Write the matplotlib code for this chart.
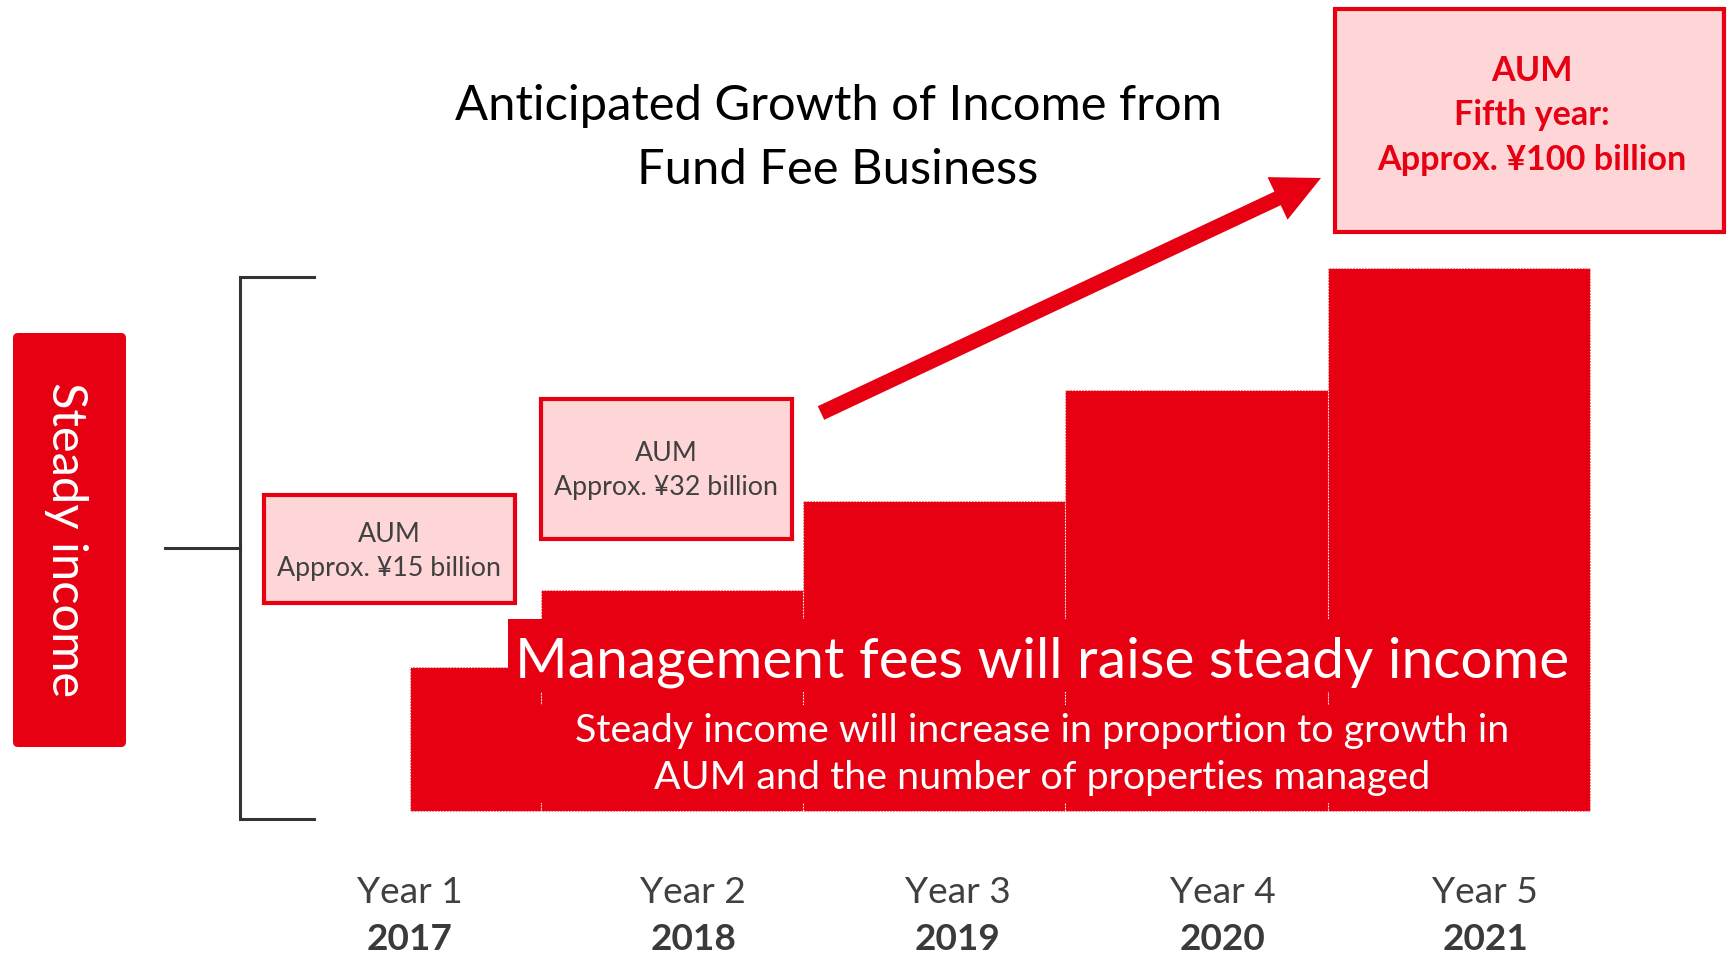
import matplotlib.pyplot as plt
from matplotlib.patches import Rectangle, FancyBboxPatch, FancyArrow
from matplotlib import transforms
import numpy as np

W, H = 1729, 957
RED = "#e60012"
PINK = "#ffd6d7"
GREY = "#404040"

plt.rcParams["font.family"] = ["Lato", "DejaVu Sans"]

# data
years = ["Year 1", "Year 2", "Year 3", "Year 4", "Year 5"]
fiscal_years = ["2017", "2018", "2019", "2020", "2021"]
period_start = [0.5, 1, 2, 3, 4]  # first year only half a year
period_end = [1, 2, 3, 4, 5]
income_index = [26.5, 40.7, 57.1, 77.5, 100.0]
aum_notes = ["Approx. ¥15 billion", "Approx. ¥32 billion"]
aum_target = ["AUM", "Fifth year:", "Approx. ¥100 billion"]
title_lines = ["Anticipated Growth of Income from", "Fund Fee Business"]
headline = "Management fees will raise steady income"
subtext = ["Steady income will increase in proportion to growth in",
           "AUM and the number of properties managed"]

fig = plt.figure(figsize=(W / 100, H / 100), dpi=100)
renderer = fig.canvas.get_renderer()


def fit(texts, width, idx=0, vertical=False):
    # scale a group of texts so that texts[idx] is `width` pixels long
    bb = texts[idx].get_window_extent(renderer)
    cur = bb.height if vertical else bb.width
    for t in texts:
        t.set_fontsize(t.get_fontsize() * width / cur)


# bars
ax = fig.add_axes([278.75 / W, 1 - 811 / H, (1590 - 278.75) / W, (811 - 268) / H])
starts = np.array(period_start)
widths = np.array(period_end) - starts
ax.bar(starts, income_index, width=widths, align="edge", color=RED,
       edgecolor="white", linewidth=0.8, linestyle=":", clip_on=False)
ax.set_xlim(0, 5)
ax.set_ylim(0, 100)
ax.axis("off")

# year labels under the bars
label_x = [0.5, 1.58, 2.59, 3.6, 4.6]
tr = transforms.blended_transform_factory(ax.transData, fig.transFigure)
yl, fy_ = [], []
for x, y, f in zip(label_x, years, fiscal_years):
    yl.append(fig.text(x, 1 - 903 / H, y, transform=tr, ha="center", va="baseline",
                       color=GREY, fontsize=20))
    fy_.append(fig.text(x, 1 - 956 / H, f, transform=tr, ha="center", va="bottom",
                        color="#3a3a3a", fontsize=20, fontweight="bold"))
fit(yl, 106)
fit(fy_, 86)

# overlay in pixel coordinates for the slide decorations
ov = fig.add_axes([0, 0, 1, 1], zorder=5)
ov.set_xlim(0, W)
ov.set_ylim(H, 0)
ov.axis("off")
ov.patch.set_alpha(0)

# text boxes over the bars
ov.add_patch(Rectangle((508, 619), 1580 - 508, 692 - 619, color=RED, lw=0))
ov.add_patch(Rectangle((508, 705), 1580 - 508, 803 - 705, color=RED, lw=0))
h = ov.text(1042, 677, headline, ha="center", va="baseline", color="white", fontsize=30)
fit([h], 1053)
s = [ov.text(1042, 742, subtext[0], ha="center", va="baseline", color="white", fontsize=20),
     ov.text(1042, 789, subtext[1], ha="center", va="baseline", color="white", fontsize=20)]
fit(s, 937)

# AUM boxes
for (x0, y0, x1, y1), note, (b1, b2) in zip([(264, 495, 515, 603), (541, 399, 792, 539)],
                                            aum_notes, [(542, 576), (461, 495)]):
    ov.add_patch(Rectangle((x0, y0), x1 - x0, y1 - y0, facecolor=PINK,
                           edgecolor=RED, lw=3))
    cx = (x0 + x1) / 2
    t = [ov.text(cx, b2, note, ha="center", va="baseline", color=GREY, fontsize=18),
         ov.text(cx, b1, "AUM", ha="center", va="baseline", color=GREY, fontsize=18)]
    fit(t, 223)

ov.add_patch(Rectangle((1335, 9), 1724 - 1335, 232 - 9, facecolor=PINK, edgecolor=RED, lw=3))
t = [ov.text(1532, b, line, ha="center", va="baseline", color=RED, fontsize=20,
             fontweight="bold") for line, b in zip(aum_target, [81, 125, 170])]
fit(t, 310, idx=2)

# title
t = [ov.text(838, b, line, ha="center", va="baseline", color="black", fontsize=30)
     for line, b in zip(title_lines, [120, 184])]
fit(t, 767)

# growth arrow
ov.add_patch(FancyArrow(821, 413, 1321 - 821, 178 - 413, width=15, head_width=47,
                        head_length=48, length_includes_head=True, color=RED, lw=0))

# bracket and side label
ov.plot([314, 240, 240, 314], [277, 277, 819, 819], color="#333333", lw=2.2,
        solid_joinstyle="miter")
ov.plot([165, 240], [548, 548], color="#333333", lw=2.2)
ov.add_patch(FancyBboxPatch((17, 337), 105, 406, boxstyle="round,pad=4,rounding_size=5",
                            color=RED, lw=0))
t = ov.text(66, 540, "Steady income", rotation=-90, ha="center", va="center",
            color="white", fontsize=30)
fit([t], 315, vertical=True)

fig.savefig("out.png", dpi=100)
